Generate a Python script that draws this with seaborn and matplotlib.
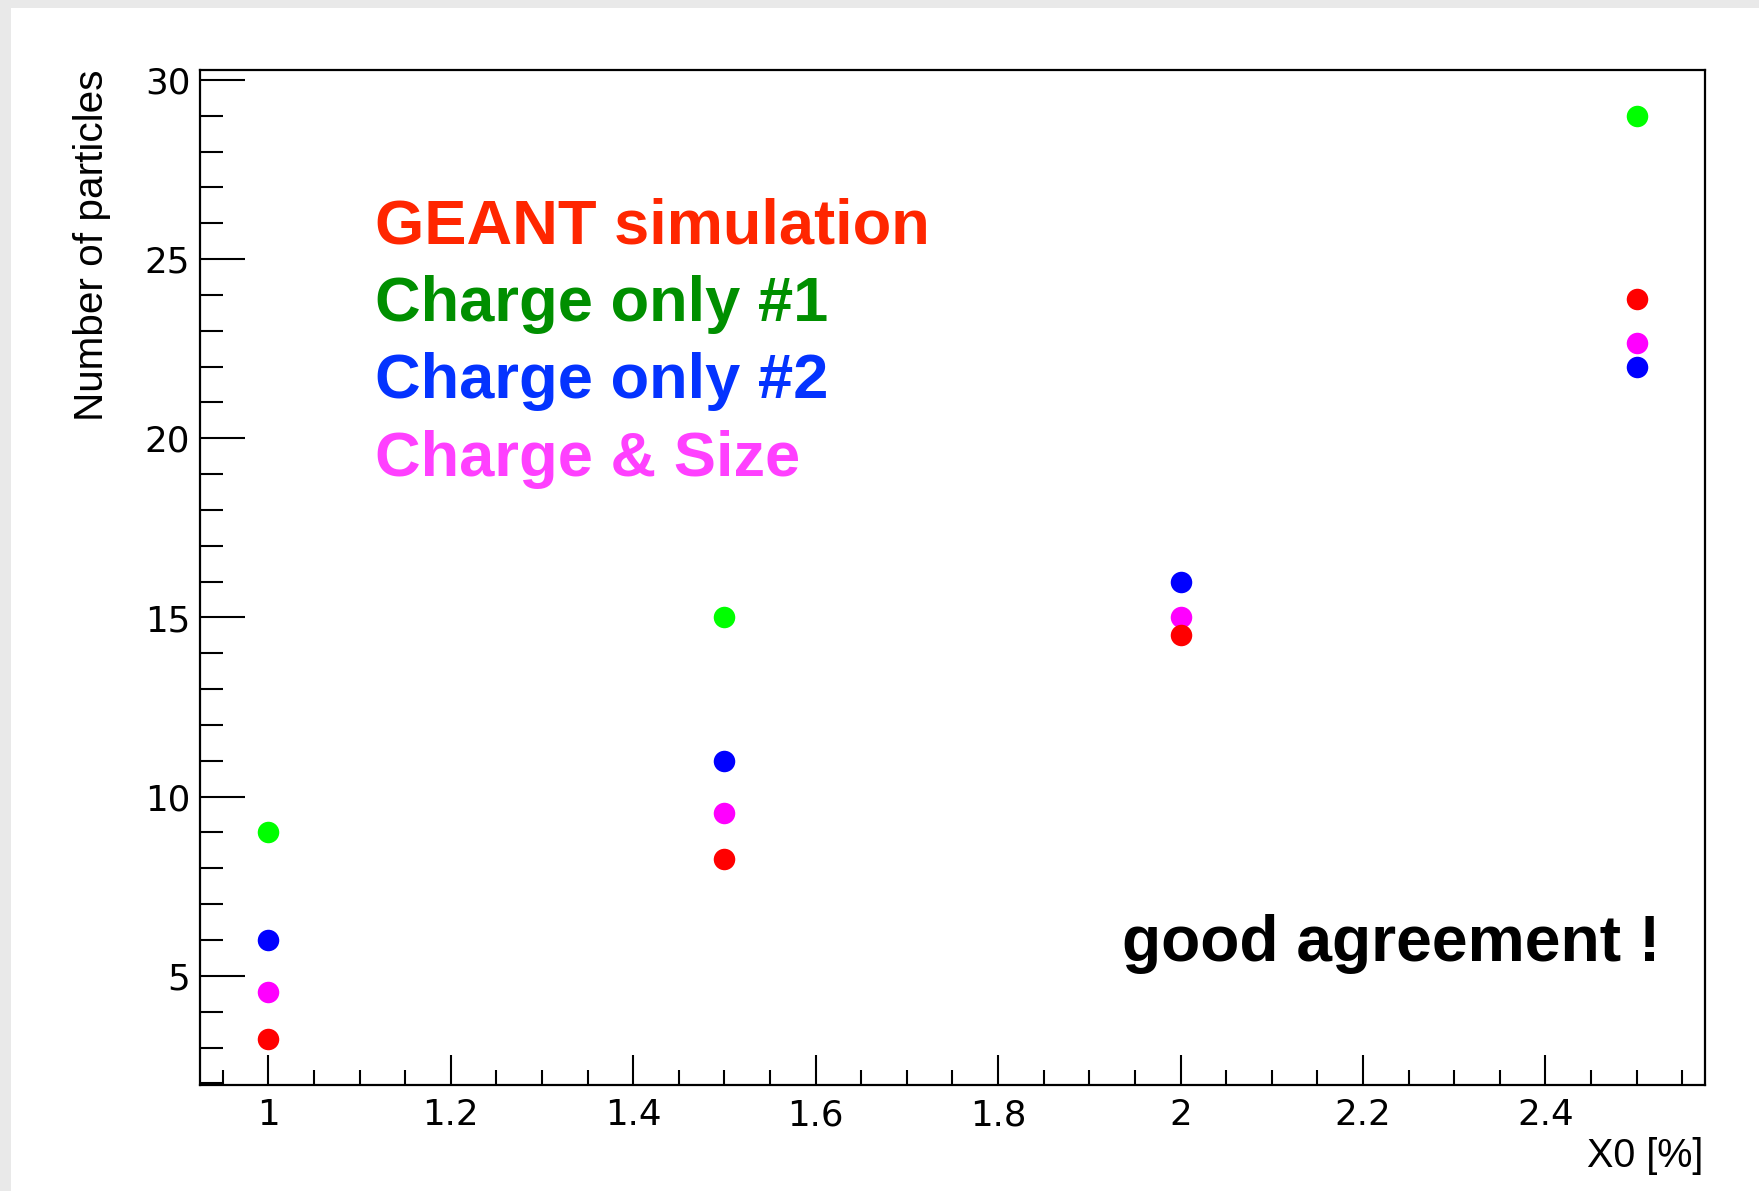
import numpy as np
import pandas as pd
import matplotlib
matplotlib.use("Agg")
import matplotlib.pyplot as plt
from matplotlib.patches import Rectangle
from matplotlib.ticker import MultipleLocator, FuncFormatter
import seaborn as sns

# Radiation length of the absorber and the number of reconstructed particles
x0_percent = [1.0, 1.5, 2.0, 2.5]
geant_sim = [3.25, 8.25, 14.5, 23.9]
charge_only_1 = [9.0, 15.0, np.nan, 29.0]
charge_only_2 = [6.0, 11.0, 16.0, 22.0]
charge_and_size = [4.55, 9.55, 15.0, 22.65]

series_names = ["GEANT simulation", "Charge only #1", "Charge only #2", "Charge & Size"]
marker_colors = ["#ff0000", "#00ff00", "#0000ff", "#ff00ff"]
label_colors = ["#ff2600", "#008f00", "#0433ff", "#ff40ff"]

x_ticks = [1.0, 1.2, 1.4, 1.6, 1.8, 2.0, 2.2, 2.4]
y_ticks = [5, 10, 15, 20, 25, 30]

sns.set_theme(style="ticks")
plt.rcParams["font.family"] = ["Liberation Sans", "DejaVu Sans"]

W, H = 1759, 1191
fig = plt.figure(figsize=(W / 100, H / 100 + 0.001), dpi=100)
fig.patch.set_facecolor("#e9e9e9")
fig.patches.append(Rectangle((11 / W, 0), 1 - 11 / W, 1 - 8 / H,
                             transform=fig.transFigure, facecolor="white",
                             edgecolor="none", zorder=-10))

ax_l, ax_r, ax_t, ax_b = 200, 1705, 70, 1085.5
ax = fig.add_axes([ax_l / W, 1 - ax_b / H, (ax_r - ax_l) / W, (ax_b - ax_t) / H])
ax.set_facecolor("white")

df = pd.DataFrame({
    "x0": x0_percent * 4,
    "n": geant_sim + charge_only_1 + charge_only_2 + charge_and_size,
    "series": sum([[name] * len(x0_percent) for name in series_names], []),
})

draw_order = ["Charge & Size", "Charge only #1", "GEANT simulation", "Charge only #2"]
for z, name in enumerate(draw_order):
    color = marker_colors[series_names.index(name)]
    sns.scatterplot(data=df[df["series"] == name], x="x0", y="n", color=color,
                    s=240, linewidth=0, marker="o", ax=ax, zorder=3 + z, legend=False)

ax.set_xlim(0.925, 2.575)
ax.set_ylim(1.94, 30.28)

ax.xaxis.set_minor_locator(MultipleLocator(0.05))
ax.set_xticks(x_ticks)
ax.yaxis.set_minor_locator(MultipleLocator(1))
ax.set_yticks(y_ticks)
fmt = FuncFormatter(lambda v, p: f"{v:g}")
ax.xaxis.set_major_formatter(fmt)
ax.yaxis.set_major_formatter(fmt)

for s in ax.spines.values():
    s.set_linewidth(1.6)
    s.set_color("black")
    s.set_visible(True)

ax.tick_params(axis="both", which="both", direction="in", color="black",
               width=1.5, top=False, right=False, labelcolor="black")
ax.tick_params(axis="x", which="major", length=21.6, pad=9.0)
ax.tick_params(axis="x", which="minor", length=10.8)
ax.tick_params(axis="y", which="major", length=32.4, pad=7)
ax.tick_params(axis="y", which="minor", length=16.2)
for lab in ax.get_xticklabels() + ax.get_yticklabels():
    lab.set_fontfamily("DejaVu Sans")
    lab.set_fontsize(25.7)

aw, ah = ax_r - ax_l, ax_b - ax_t
ax.set_xlabel("X0 [%]", fontsize=28.5, loc="right", color="black")
ax.xaxis.set_label_coords((1703 - ax_l) / aw, -(1137 - ax_b) / ah)
ax.set_ylabel("Number of particles", fontsize=29.2, loc="top", color="black")
ax.yaxis.set_label_coords((111.5 - ax_l) / aw, 1 - (69.5 - ax_t) / ah)

# Series labels written in their own colours
for i, (name, col) in enumerate(zip(series_names, label_colors)):
    base = 243.3 + i * 77.55
    ax.text((375 - ax_l) / aw, (ax_b - base) / ah, name, transform=ax.transAxes,
            color=col, fontsize=45.5, fontweight="bold", ha="left", va="baseline")

ax.text((1122 - ax_l) / aw, (ax_b - 961) / ah, "good agreement !",
        transform=ax.transAxes, color="black", fontsize=46.2,
        fontweight="bold", ha="left", va="baseline")

fig.savefig("out.png", dpi=100, facecolor=fig.get_facecolor())
